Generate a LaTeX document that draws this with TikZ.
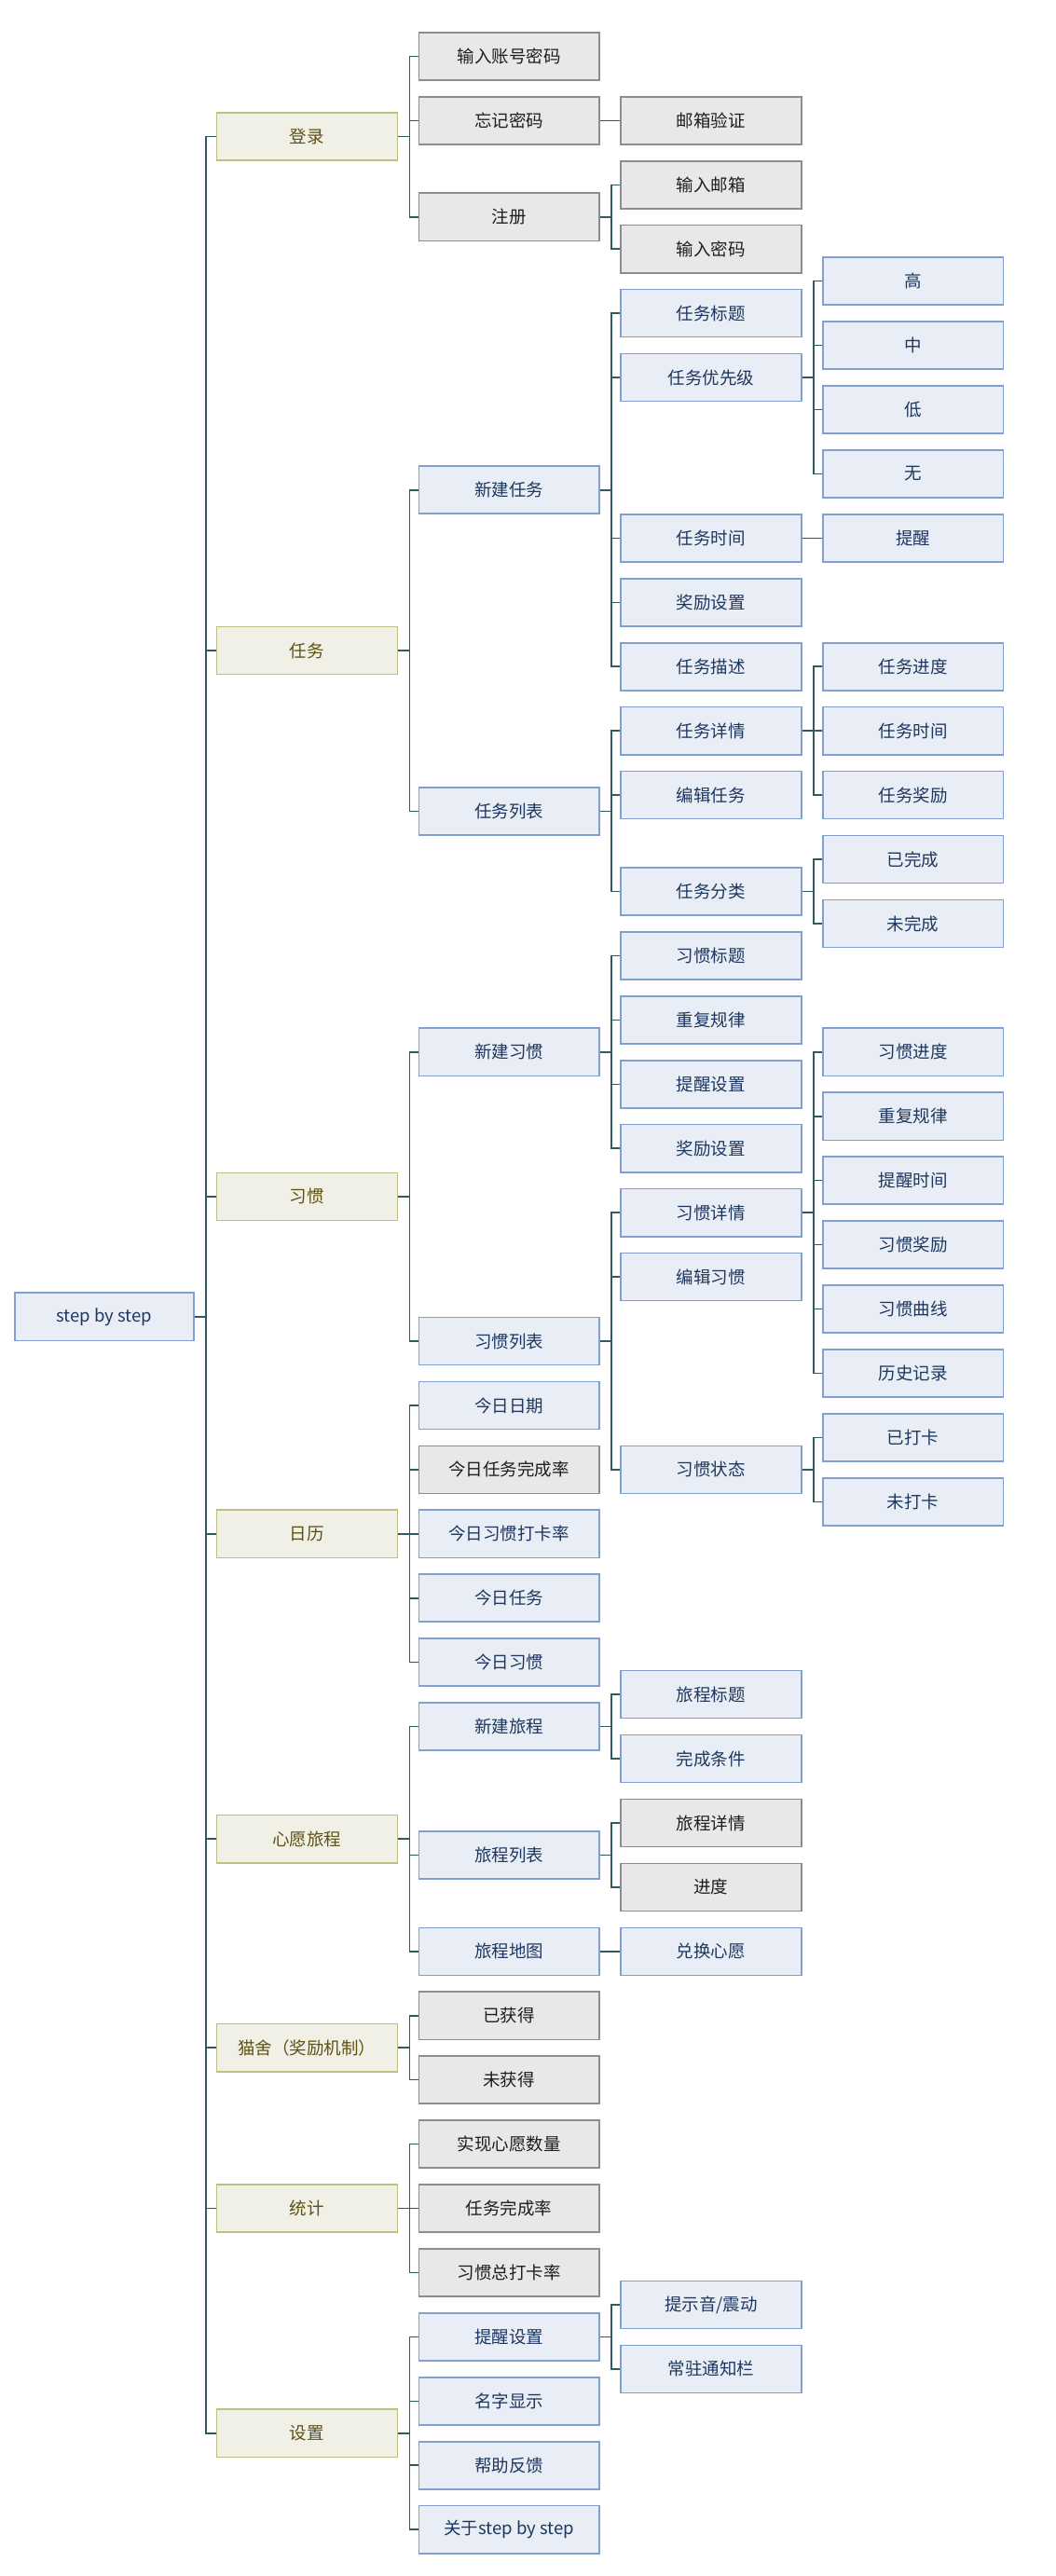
\documentclass[tikz,border=0pt]{standalone}
\usepackage{fontspec}
\setmainfont{Noto Sans CJK SC}
\begin{document}
\begin{tikzpicture}[x=1pt,y=-1pt,
  bx/.style={draw,line width=0.9pt,minimum width=110pt,minimum height=29pt,inner sep=0pt,font=\fontsize{10.5}{12}\selectfont},
  bl/.style={bx,fill=blue!4!white,fill={rgb,255:red,233;green,238;blue,246},draw={rgb,255:red,128;green,160;blue,210},text={rgb,255:red,30;green,55;blue,95}},
  gr/.style={bx,fill={rgb,255:red,232;green,232;blue,234},draw={rgb,255:red,140;green,140;blue,145},text={rgb,255:red,30;green,30;blue,30}},
  ol/.style={bx,fill={rgb,255:red,240;green,240;blue,230},draw={rgb,255:red,190;green,190;blue,130},text={rgb,255:red,95;green,80;blue,20}},
  ln/.style={draw={rgb,255:red,47;green,90;blue,95},line width=0.9pt}]
\useasboundingbox (0,0) rectangle (643,1568.7);
\begin{scope}[y=-39.12pt,yshift=-34.3pt]
\node[bl,minimum width=109pt] (root) at (63.5,19.62) {step by step};
% col1
\node[ol] (dl) at (187,1.25) {登录};
\node[ol] (rw) at (187,9.25) {任务};
\node[ol] (xg) at (187,17.75) {习惯};
\node[ol] (rl) at (187,23) {日历};
\node[ol] (xy) at (187,27.75) {心愿旅程};
\node[ol] (ms) at (187,31) {猫舍（奖励机制）};
\node[ol] (tj) at (187,33.5) {统计};
\node[ol] (sz) at (187,37) {设置};
% login
\node[gr] (a1) at (310,0) {输入账号密码};
\node[gr] (a2) at (310,1) {忘记密码};
\node[gr] (a3) at (310,2.5) {注册};
\node[gr] (a21) at (433,1) {邮箱验证};
\node[gr] (a31) at (433,2) {输入邮箱};
\node[gr] (a32) at (433,3) {输入密码};
% task
\node[bl] (b1) at (310,6.75) {新建任务};
\node[bl] (b2) at (310,11.75) {任务列表};
\node[bl] (b11) at (433,4) {任务标题};
\node[bl] (b12) at (433,5) {任务优先级};
\node[bl] (b13) at (433,7.5) {任务时间};
\node[bl] (b14) at (433,8.5) {奖励设置};
\node[bl] (b15) at (433,9.5) {任务描述};
\node[bl] (b121) at (556,3.5) {高};
\node[bl] (b122) at (556,4.5) {中};
\node[bl] (b123) at (556,5.5) {低};
\node[bl] (b124) at (556,6.5) {无};
\node[bl] (b131) at (556,7.5) {提醒};
\node[bl] (b21) at (433,10.5) {任务详情};
\node[bl] (b22) at (433,11.5) {编辑任务};
\node[bl] (b23) at (433,13) {任务分类};
\node[bl] (b211) at (556,9.5) {任务进度};
\node[bl] (b212) at (556,10.5) {任务时间};
\node[bl] (b213) at (556,11.5) {任务奖励};
\node[bl] (b231) at (556,12.5) {已完成};
\node[bl] (b232) at (556,13.5) {未完成};
% habit
\node[bl] (c1) at (310,15.5) {新建习惯};
\node[bl] (c2) at (310,20) {习惯列表};
\node[bl] (c11) at (433,14) {习惯标题};
\node[bl] (c12) at (433,15) {重复规律};
\node[bl] (c13) at (433,16) {提醒设置};
\node[bl] (c14) at (433,17) {奖励设置};
\node[bl] (c21) at (433,18) {习惯详情};
\node[bl] (c22) at (433,19) {编辑习惯};
\node[bl] (c23) at (433,22) {习惯状态};
\node[bl] (c211) at (556,15.5) {习惯进度};
\node[bl] (c212) at (556,16.5) {重复规律};
\node[bl] (c213) at (556,17.5) {提醒时间};
\node[bl] (c214) at (556,18.5) {习惯奖励};
\node[bl] (c215) at (556,19.5) {习惯曲线};
\node[bl] (c216) at (556,20.5) {历史记录};
\node[bl] (c231) at (556,21.5) {已打卡};
\node[bl] (c232) at (556,22.5) {未打卡};
% calendar
\node[bl] (d1) at (310,21) {今日日期};
\node[gr] (d2) at (310,22) {今日任务完成率};
\node[bl] (d3) at (310,23) {今日习惯打卡率};
\node[bl] (d4) at (310,24) {今日任务};
\node[bl] (d5) at (310,25) {今日习惯};
% wish
\node[bl] (e1) at (310,26) {新建旅程};
\node[bl] (e2) at (310,28) {旅程列表};
\node[bl] (e3) at (310,29.5) {旅程地图};
\node[bl] (e11) at (433,25.5) {旅程标题};
\node[bl] (e12) at (433,26.5) {完成条件};
\node[gr] (e21) at (433,27.5) {旅程详情};
\node[gr] (e22) at (433,28.5) {进度};
\node[bl] (e31) at (433,29.5) {兑换心愿};
% cat
\node[gr] (f1) at (310,30.5) {已获得};
\node[gr] (f2) at (310,31.5) {未获得};
% stats
\node[gr] (g1) at (310,32.5) {实现心愿数量};
\node[gr] (g2) at (310,33.5) {任务完成率};
\node[gr] (g3) at (310,34.5) {习惯总打卡率};
% settings
\node[bl] (h1) at (310,35.5) {提醒设置};
\node[bl] (h2) at (310,36.5) {名字显示};
\node[bl] (h3) at (310,37.5) {帮助反馈};
\node[bl] (h4) at (310,38.5) {关于step by step};
\node[bl] (h11) at (433,35) {提示音/震动};
\node[bl] (h12) at (433,36) {常驻通知栏};
% edges
\foreach \p/\cs in {root/{dl,rw,xg,rl,xy,ms,tj,sz},
  dl/{a1,a2,a3}, a2/{a21}, a3/{a31,a32},
  rw/{b1,b2}, b1/{b11,b12,b13,b14,b15}, b12/{b121,b122,b123,b124}, b13/{b131},
  b2/{b21,b22,b23}, b21/{b211,b212,b213}, b23/{b231,b232},
  xg/{c1,c2}, c1/{c11,c12,c13,c14}, c2/{c21,c22,c23}, c21/{c211,c212,c213,c214,c215,c216}, c23/{c231,c232},
  rl/{d1,d2,d3,d4,d5}, xy/{e1,e2,e3}, e1/{e11,e12}, e2/{e21,e22}, e3/{e31},
  ms/{f1,f2}, tj/{g1,g2,g3}, sz/{h1,h2,h3,h4}, h1/{h11,h12}}
  {\foreach \c in \cs {\draw[ln] (\p.east) -- ++(7pt,0) |- (\c.west);}}
\end{scope}
\end{tikzpicture}
\end{document}
